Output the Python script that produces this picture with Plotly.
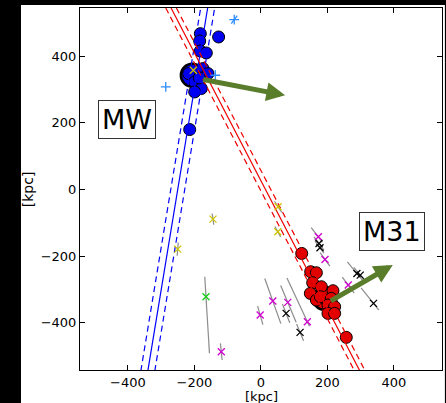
import plotly.graph_objects as go
import numpy as np

# ---------------- data ----------------
# Milky Way satellites (blue circles)
mw_x = [-182, -184, -127, -182, -164, -174, -159, -217, -199, -179, -199, -185, -214]
mw_y = [468, 446, 458, 416, 410, 363, 348, 348, 323, 303, 293, 335, 180]
mw_host = [-206, 343]          # big ring (MW)

# M31 satellites (red circles)
m31_x = [123, 150, 167, 156, 182, 149, 167, 179, 217, 212, 202, 222, 202, 222, 257]
m31_y = [-192, -247, -250, -280, -292, -312, -332, -322, -304, -327, -347, -352, -372, -372, -444]
m31_host = [192, -327]         # big ring (M31)

# other satellites (x markers) with line-of-sight distance uncertainty (kpc)
mag_x = [36, 81, 140, -2, 173, 193, 263, -119]
mag_y = [-335, -339, -397, -377, -142, -210, -287, -487]
mag_lo = [-72, -55, -145, -28, -35, -25, -30, -25]
mag_hi = [72, 65, 15, 30, 20, 25, 30, 25]

blk_x = [175, 178, 289, 299, 339, 76, 118]
blk_y = [-162, -175, -252, -257, -342, -372, -429]
blk_lo = [-25, -25, -45, -30, -60, -30, -27]
blk_hi = [25, 20, 30, 30, 25, 30, 27]

yel_x = [51, 52, -144, -250, -203]
yel_y = [-127, -52, -89, -179, 358]
yel_lo = [-18, -20, -17, -20, 0]
yel_hi = [18, 20, 17, 20, 0]

grn_x = [-165]
grn_y = [-322]
grn_lo = [-60]
grn_hi = [170]

plus_x = [-286, -137, -80]
plus_y = [308, 343, 510]
plus_lo = [0, 0, -15]
plus_hi = [0, 0, 15]

# fitted planes (lines) and their widths
mw_plane_x = [-340, -160]
mw_plane_y = [-545, 545]
mw_plane_off = 21
m31_plane_x = [-270, 298]
m31_plane_y = [545, -545]
m31_plane_off = 16

# velocity arrows: start -> tip
mw_arrow = [(-178, 331), (73, 283)]
m31_arrow = [(206, -337), (397, -227)]

labels = ["MW", "M31"]
label_x = [-404, 395]
label_y = [209, -126]

tick_vals = [-400, -200, 0, 200, 400]

# ---------------- figure ----------------
FONT = "DejaVu Sans"
fig = go.Figure()


def los_segments(xs, ys, lo, hi):
    sx, sy = [], []
    ox, oy = mw_host
    for x, y, a, b in zip(xs, ys, lo, hi):
        if a == 0 and b == 0:
            continue
        d = np.array([x - ox, y - oy], float)
        u = d / np.linalg.norm(d)
        sx += [x + a * u[0], x + b * u[0], None]
        sy += [y + a * u[1], y + b * u[1], None]
    return sx, sy


# host rings first, satellites over them
fig.add_trace(go.Scatter(x=[mw_host[0]], y=[mw_host[1]], mode="markers",
                         marker=dict(size=23, color="#0000ee", line=dict(color="black", width=2.5))))
fig.add_trace(go.Scatter(x=[m31_host[0]], y=[m31_host[1]], mode="markers",
                         marker=dict(size=23, color="#e00000", line=dict(color="black", width=2.5))))
fig.add_trace(go.Scatter(x=mw_x, y=mw_y, mode="markers",
                         marker=dict(size=12, color="#0000ee", line=dict(color="black", width=1))))
fig.add_trace(go.Scatter(x=m31_x, y=m31_y, mode="markers",
                         marker=dict(size=12, color="#e00000", line=dict(color="black", width=1))))

# planes
for px, py, off, col in [(mw_plane_x, mw_plane_y, mw_plane_off, "#0000ff"),
                         (m31_plane_x, m31_plane_y, m31_plane_off, "#ee0000")]:
    fig.add_trace(go.Scatter(x=px, y=py, mode="lines", line=dict(color=col, width=1.2)))
    for s in (-1, 1):
        fig.add_trace(go.Scatter(x=[v + s * off for v in px], y=py, mode="lines",
                                 line=dict(color=col, width=1.2, dash="6px,4px")))

# line-of-sight error bars (grey)
gx, gy = [], []
for xs, ys, lo, hi in [(mag_x, mag_y, mag_lo, mag_hi), (blk_x, blk_y, blk_lo, blk_hi),
                       (yel_x, yel_y, yel_lo, yel_hi), (grn_x, grn_y, grn_lo, grn_hi)]:
    a, b = los_segments(xs, ys, lo, hi)
    gx += a
    gy += b
fig.add_trace(go.Scatter(x=gx, y=gy, mode="lines", line=dict(color="#8c8c8c", width=1.2)))
a, b = los_segments(plus_x, plus_y, plus_lo, plus_hi)
fig.add_trace(go.Scatter(x=a, y=b, mode="lines", line=dict(color="#2a8cff", width=1.2)))

# x / + markers
for xs, ys, col in [(mag_x, mag_y, "#d000d0"), (blk_x, blk_y, "#000000"),
                    (yel_x, yel_y, "#cfc400"), (grn_x, grn_y, "#18cc18")]:
    fig.add_trace(go.Scatter(x=xs, y=ys, mode="markers",
                             marker=dict(symbol="x-thin", size=7, line=dict(color=col, width=1.3))))
fig.add_trace(go.Scatter(x=plus_x, y=plus_y, mode="markers",
                         marker=dict(symbol="cross-thin", size=7, line=dict(color="#2a8cff", width=1.3))))

# arrows
for (sx, sy), (tx, ty) in [mw_arrow, m31_arrow]:
    fig.add_annotation(x=tx, y=ty, ax=sx, ay=sy, xref="x", yref="y", axref="x", ayref="y",
                       text="", showarrow=True, arrowhead=2, arrowwidth=5, arrowsize=0.75,
                       arrowcolor="#5a7d2c", standoff=0)

# labels in boxes
for t, lx, ly in zip(labels, label_x, label_y):
    fig.add_annotation(x=lx, y=ly, xref="x", yref="y", text=t, showarrow=False,
                       font=dict(family=FONT, size=27, color="black"),
                       bgcolor="white", bordercolor="#333333", borderwidth=1, borderpad=3)

# axis titles
fig.add_annotation(x=0.5, y=-0.073, xref="paper", yref="paper", text="[kpc]", showarrow=False,
                   font=dict(family=FONT, size=13, color="black"), xanchor="center", yanchor="middle")
fig.add_annotation(x=-0.143, y=0.5, xref="paper", yref="paper", text="[kpc]", showarrow=False,
                   textangle=-90, font=dict(family=FONT, size=14, color="black"),
                   xanchor="center", yanchor="middle")

# white figure area over black page
fig.add_shape(type="rect", xref="paper", yref="paper", x0=-0.163, x1=1.008, y0=-0.12, y1=1.0083,
              fillcolor="white", line=dict(width=0), layer="below")

axis_common = dict(showgrid=False, zeroline=False, showline=True, linecolor="black", linewidth=1,
                   mirror="ticks", ticks="inside", ticklen=5, tickwidth=1, tickcolor="black",
                   tickvals=tick_vals, tickfont=dict(family=FONT, size=13, color="black"))

fig.update_layout(
    width=446, height=403,
    margin=dict(l=80, r=4, t=8, b=33),
    paper_bgcolor="black", plot_bgcolor="white",
    showlegend=False,
    xaxis=dict(range=[-544, 545], **axis_common),
    yaxis=dict(range=[-542, 545], **axis_common),
)

fig.write_html("out.html")
